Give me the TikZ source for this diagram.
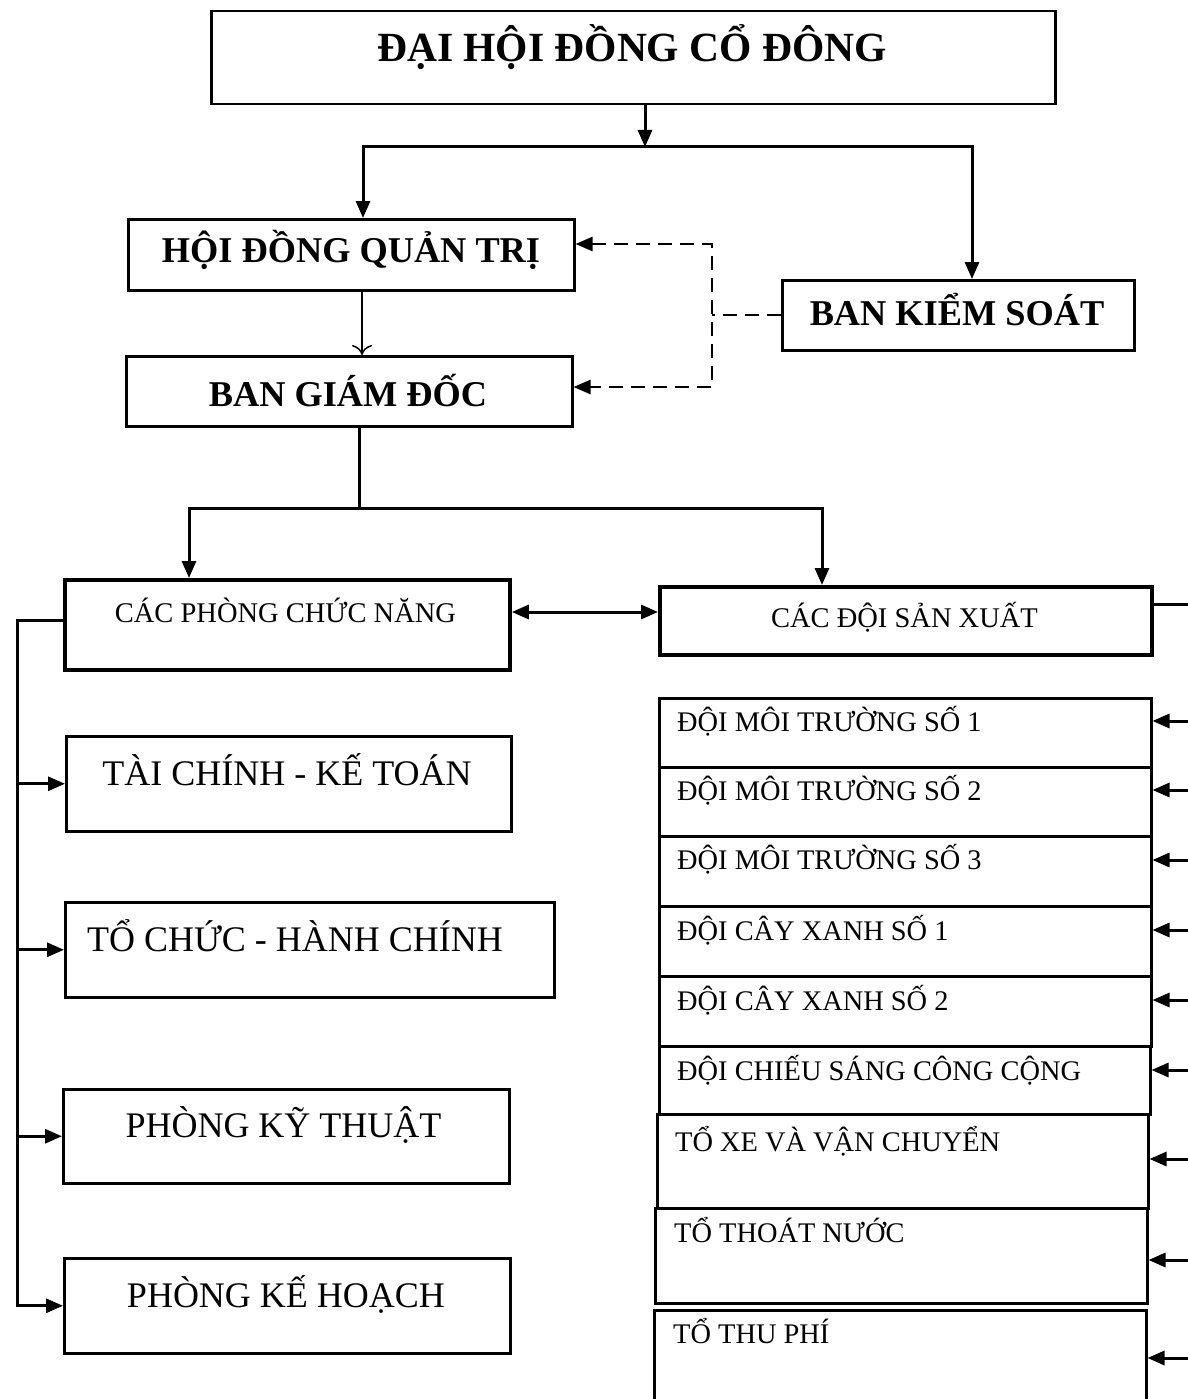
\documentclass[tikz,border=0pt]{standalone}
\usepackage{fontspec}
\setmainfont{Liberation Serif}
\usetikzlibrary{arrows.meta}
\begin{document}
\begin{tikzpicture}[x=1pt,y=-1pt,
  boxn/.style={draw, line width=2.5pt, inner sep=0pt, anchor=north west},
  boxk/.style={boxn, line width=3.8pt},
  conn/.style={line width=3pt, line join=miter},
  tip/.tip={Triangle[length=17pt,width=14pt]},
  arr/.style={conn, -tip},
  darr/.style={conn, tip-tip},
  dsh/.style={line width=2.4pt, dash pattern=on 14pt off 8pt},
  dsharr/.style={dsh, tip-tip},
  ttl/.style={anchor=base, inner sep=0pt, font=\fontsize{41.5}{49}\selectfont\bfseries},
  big/.style={anchor=base, inner sep=0pt, font=\fontsize{36.3}{42}\selectfont\bfseries},
  mid/.style={anchor=base, inner sep=0pt, font=\fontsize{28.5}{34}\selectfont},
  lft/.style={anchor=base, inner sep=0pt, font=\fontsize{36}{43}\selectfont},
  rgt/.style={anchor=base west, inner sep=0pt, font=\fontsize{28.4}{33}\selectfont}
]
\useasboundingbox (0,0) rectangle (1187,1399);
\fill[white] (0,0) rectangle (1187,1399);

% boxes
\node[boxn, minimum width=844pt, minimum height=93pt] (dh) at (210,10) {};
\node[boxn, minimum width=446pt, minimum height=71pt] (hd) at (127,218) {};
\node[boxn, minimum width=352pt, minimum height=70pt] (bk) at (781,279) {};
\node[boxn, minimum width=446pt, minimum height=70pt] (bg) at (125,355) {};
\node[boxk, minimum width=445pt, minimum height=90pt] (cp) at (63,578) {};
\node[boxk, minimum width=492pt, minimum height=68pt] (cd) at (658,585) {};
\node[boxn, minimum width=445pt, minimum height=95pt] (tc) at (65,735) {};
\node[boxn, minimum width=489pt, minimum height=95pt] (th) at (64,901) {};
\node[boxn, minimum width=446pt, minimum height=94pt] (kt) at (62,1088) {};
\node[boxn, minimum width=446pt, minimum height=95pt] (kh) at (63,1257) {};

\node[boxn, minimum width=492pt, minimum height=69pt] (r1) at (658,697) {};
\node[boxn, minimum width=492pt, minimum height=69pt] (r2) at (658,766) {};
\node[boxn, minimum width=492pt, minimum height=70pt] (r3) at (658,835) {};
\node[boxn, minimum width=492pt, minimum height=70pt] (r4) at (658,905) {};
\node[boxn, minimum width=492pt, minimum height=70pt] (r5) at (658,975) {};
\node[boxn, minimum width=491pt, minimum height=68pt] (r6) at (658,1045) {};
\node[boxn, minimum width=491pt, minimum height=94pt] (r7) at (656,1113) {};
\node[boxn, minimum width=492pt, minimum height=95pt] (r8) at (654,1207) {};
\node[boxn, minimum width=492pt, minimum height=110pt] (r9) at (653,1309) {};

% texts
\node[ttl] (dht) at (632,62) {ĐẠI HỘI ĐỒNG CỔ ĐÔNG};
\node[big] (hdt) at (351,262) {HỘI ĐỒNG QUẢN TRỊ};
\node[big] (bkt) at (957,325) {BAN KIỂM SOÁT};
\node[big] (bgt) at (348,406) {BAN GIÁM ĐỐC};
\node[mid] (cpt) at (285.5,622) {CÁC PHÒNG CHỨC NĂNG};
\node[mid] (cdt) at (904.5,627) {CÁC ĐỘI SẢN XUẤT};
\node[lft] (tct) at (287,785) {TÀI CHÍNH - KẾ TOÁN};
\node[lft] (tht) at (295,951) {TỔ CHỨC - HÀNH CHÍNH};
\node[lft] (ktt) at (283.5,1137) {PHÒNG KỸ THUẬT};
\node[lft] (kht) at (286,1307) {PHÒNG KẾ HOẠCH};

\node[rgt] (r1t) at (677,731) {ĐỘI MÔI TRƯỜNG SỐ 1};
\node[rgt] (r2t) at (677,800) {ĐỘI MÔI TRƯỜNG SỐ 2};
\node[rgt] (r3t) at (677,869) {ĐỘI MÔI TRƯỜNG SỐ 3};
\node[rgt] (r4t) at (677,940) {ĐỘI CÂY XANH SỐ 1};
\node[rgt] (r5t) at (677,1010) {ĐỘI CÂY XANH SỐ 2};
\node[rgt] (r6t) at (677,1080) {ĐỘI CHIẾU SÁNG CÔNG CỘNG};
\node[rgt] (r7t) at (675,1151) {TỔ XE VÀ VẬN CHUYỂN};
\node[rgt] (r8t) at (674,1242) {TỔ THOÁT NƯỚC};
\node[rgt] (r9t) at (673,1343) {TỔ THU PHÍ};

% coordinates
\coordinate (b1) at (645,147);
\coordinate (b1l) at (363,147);
\coordinate (b1r) at (972,147);
\coordinate (hg) at (362,320);
\coordinate (dt) at (712,244);
\coordinate (db) at (712,387);
\coordinate (b2) at (359,508);
\coordinate (b2l) at (189,508);
\coordinate (b2r) at (822,508);
\coordinate (cs) at (580,612);
\coordinate (lb) at (17,620);
\coordinate (rb) at (1190,604);
\coordinate (a1) at (1190,721);
\coordinate (a2) at (1190,790);
\coordinate (a3) at (1190,860);
\coordinate (a4) at (1190,930);
\coordinate (a5) at (1190,1000);
\coordinate (a6) at (1190,1070);
\coordinate (a7) at (1190,1159);
\coordinate (a8) at (1190,1260);
\coordinate (a9) at (1190,1358);

% connectors top
\draw[arr] (dh.south -| b1) -- (b1);
\draw[darr] (hd.north -| b1l) -- (b1l) -- (b1r) -- (bk.north -| b1r);
\draw[line width=1.5pt, -{To[length=10pt,width=20pt]}] (hd.south -| hg) -- (bg.north -| hg);
\draw[dsharr] (hd.east |- dt) -- (dt) -- (db) -- (bg.east |- db);
\draw[dsh] (bk.west) -- (bk.west -| dt);

% middle
\draw[conn] (bg.south -| b2) -- (b2);
\draw[darr] (cp.north -| b2l) -- (b2l) -- (b2r) -- (cd.north -| b2r);
\draw[darr] (cp.east |- cs) -- (cd.west |- cs);

% left bus
\draw[arr] (cp.west |- lb) -- (lb) -- (lb |- kh.west) -- (kh.west);
\draw[arr] (lb |- tc.west) -- (tc.west);
\draw[arr] (lb |- th.west) -- (th.west);
\draw[arr] (lb |- kt.west) -- (kt.west);

% right bus
\draw[arr] (cd.east |- rb) -- (rb) -- (a9) -- (r9.east |- a9);
\draw[arr] (a1) -- (r1.east |- a1);
\draw[arr] (a2) -- (r2.east |- a2);
\draw[arr] (a3) -- (r3.east |- a3);
\draw[arr] (a4) -- (r4.east |- a4);
\draw[arr] (a5) -- (r5.east |- a5);
\draw[arr] (a6) -- (r6.east |- a6);
\draw[arr] (a7) -- (r7.east |- a7);
\draw[arr] (a8) -- (r8.east |- a8);
\end{tikzpicture}
\end{document}
